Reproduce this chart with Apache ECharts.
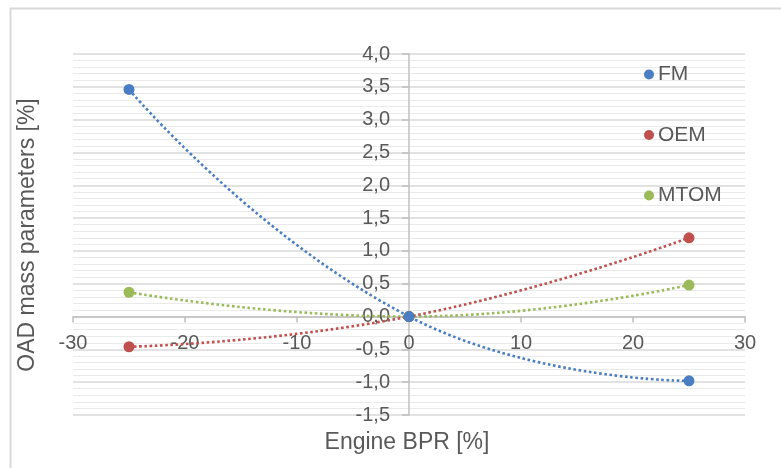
<!DOCTYPE html>
<html>
<head>
<meta charset="utf-8">
<script src="https://cdn.jsdelivr.net/npm/echarts@6/dist/echarts.min.js"></script>
<style>
html,body{margin:0;padding:0;background:#fff;}
#chart{width:781px;height:468px;}
</style>
</head>
<body>
<div id="chart"></div>
<script>
// Data
var seriesNames = ['FM', 'OEM', 'MTOM'];
var bprValues = [-25, 0, 25];
var fmValues = [3.46, 0.0, -0.98];
var oemValues = [-0.46, 0.0, 1.2];
var mtomValues = [0.37, 0.0, 0.48];
var seriesColors = ['#4A7EC2', '#C0504D', '#9BBB59'];
var xRange = [-30, 30];
var yRange = [-1.5, 4.0];

var xTitle = 'Engine BPR [%]';
var yTitle = 'OAD mass parameters [%]';

function pairs(ys) {
  return bprValues.map(function (x, i) { return [x, ys[i]]; });
}
var allValues = [fmValues, oemValues, mtomValues];

// layout
var W = 781, H = 468;
var gL = 73, gR = 36, gT = 54, gB = 53;
var gW = W - gL - gR, gH = H - gT - gB;
var zeroX = gL + (0 - xRange[0]) / (xRange[1] - xRange[0]) * gW;
var zeroY = gT + (yRange[1] - 0) / (yRange[1] - yRange[0]) * gH;

var chart = echarts.init(document.getElementById('chart'), null, {renderer: 'canvas'});
var textColor = '#595959';
var fontFamily = 'Liberation Sans, Arial, sans-serif';

var option = {
  animation: false,
  backgroundColor: '#ffffff',
  textStyle: {fontFamily: fontFamily},
  grid: {left: gL, right: gR, top: gT, bottom: gB, containLabel: false},
  legend: {
    orient: 'vertical',
    left: 639,
    top: 59,
    itemGap: 39.5,
    itemWidth: 10,
    itemHeight: 10,
    icon: 'circle',
    data: seriesNames,
    textStyle: {color: textColor, fontSize: 21, fontFamily: fontFamily, padding: [0, 0, 0, -1]}
  },
  xAxis: {
    type: 'value',
    min: xRange[0], max: xRange[1], interval: 10,
    position: 'bottom',
    offset: zeroY - (H - gB),
    axisLine: {show: true, onZero: false, lineStyle: {color: '#bfbfbf', width: 1.5}},
    axisTick: {show: true, inside: false, length: 6, lineStyle: {color: '#bfbfbf', width: 1.5}},
    axisLabel: {color: textColor, fontSize: 20, margin: 17, fontFamily: fontFamily},
    splitLine: {show: false}
  },
  yAxis: {
    type: 'value',
    min: yRange[0], max: yRange[1], interval: 0.5,
    position: 'left',
    offset: gL - zeroX,
    axisLine: {show: true, onZero: false, lineStyle: {color: '#bfbfbf', width: 1.5}},
    axisTick: {show: true, inside: false, length: 7, lineStyle: {color: '#bfbfbf', width: 1.5}},
    axisLabel: {
      color: textColor, fontSize: 20, margin: 19, fontFamily: fontFamily,
      formatter: function (v) { return v.toFixed(1).replace('.', ','); }
    },
    splitLine: {show: true, lineStyle: {color: '#d9d9d9', width: 1.5}},
    minorTick: {show: false, splitNumber: 5},
    minorSplitLine: {show: true, lineStyle: {color: '#eaeaea', width: 1.2}}
  },
  graphic: [
    {
      type: 'rect', left: 8, top: 6, silent: true, z: -10,
      shape: {x: 0, y: 0, width: 900, height: 600},
      style: {fill: 'none', stroke: '#d9d9d9', lineWidth: 2}
    },
    {
      type: 'text', x: 407, y: 443,
      style: {text: xTitle, fill: textColor, font: '23px ' + fontFamily,
              textAlign: 'center', textVerticalAlign: 'middle'}
    },
    {
      type: 'text', x: 28, y: 235, rotation: Math.PI / 2,
      style: {text: yTitle, fill: textColor, font: '23px ' + fontFamily,
              textAlign: 'center', textVerticalAlign: 'middle'}
    }
  ],
  series: seriesNames.map(function (name, i) {
    return {
      name: name,
      type: 'line',
      data: pairs(allValues[i]),
      smooth: 0.5,
      symbol: 'circle',
      symbolSize: 11,
      showSymbol: true,
      itemStyle: {color: seriesColors[i]},
      lineStyle: {color: seriesColors[i], width: 2.6, type: [2.6, 2.6], cap: 'butt'},
      z: 3 + (2 - i)
    };
  })
};
chart.setOption(option);
</script>
</body>
</html>
